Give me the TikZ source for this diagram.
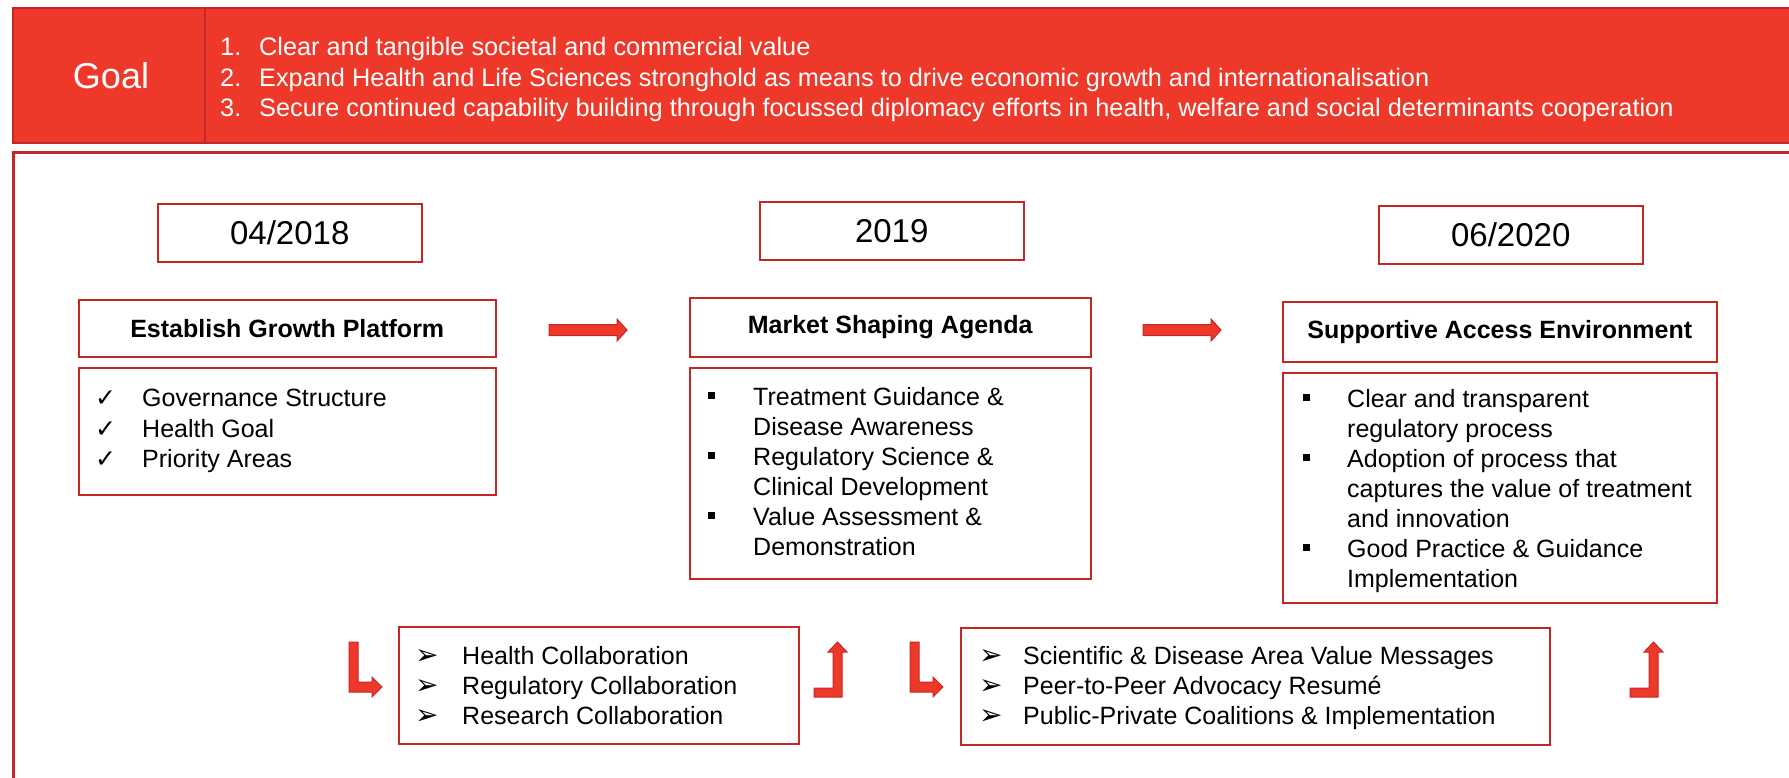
\documentclass[tikz,border=0pt]{standalone}
\usepackage{fontspec}
\setmainfont{Liberation Sans}
\newfontfamily\symfont{DejaVu Sans}
\usetikzlibrary{positioning}

\definecolor{goalred}{RGB}{237,56,42}
\definecolor{edgered}{RGB}{196,40,36}

\newcommand{\sqbul}{\rule[6pt]{7pt}{7pt}}

\tikzset{
	banner/.style={fill=goalred, draw=edgered, line width=1.5pt, anchor=north west, inner sep=0},
	datebox/.style={draw=edgered, line width=1.5pt, anchor=north west, inner sep=0, minimum width=264pt, minimum height=58pt, font=\fontsize{33}{40}\selectfont},
	titlebox/.style={draw=edgered, line width=1.5pt, anchor=north west, inner sep=0, minimum height=57pt, font=\bfseries\fontsize{25}{30}\selectfont},
	listbox/.style={draw=edgered, line width=1.5pt, anchor=north west, inner sep=0},
	items/.style={anchor=north west, inner sep=0, align=left, font=\fontsize{25}{30}\selectfont},
	fatarrow/.style={fill=goalred, draw=edgered, line width=1pt, line join=miter}
}

\begin{document}
\begin{tikzpicture}[x=1pt, y=-1pt]
	\useasboundingbox (0,0) rectangle (1789,777);

	\node[banner, minimum width=1800pt, minimum height=135pt] (banner) at (12,7) {};
	\draw[edgered, line width=1.5pt] (205,7) -- (205,142);
	\node[text=white, font=\fontsize{36}{40}\selectfont] (goal) at (111,76) {Goal};
	\node[items, text=white, font=\fontsize{25.3}{30.5}\selectfont] (goallist) at (220,34) {\begin{tabular}{@{}p{39pt}@{}l@{}}
		1. & Clear and tangible societal and commercial value\\
		2. & Expand Health and Life Sciences stronghold as means to drive economic growth and internationalisation\\
		3. & Secure continued capability building through focussed diplomacy efforts in health, welfare and social determinants cooperation
	\end{tabular}};

	\draw[edgered, line width=3pt] (13,152) rectangle (1810,800);

	\node[datebox] (d2018) at (157,203) {04/2018};
	\node[datebox] (d2019) at (759,201) {2019};
	\node[datebox] (d2020) at (1378,205) {06/2020};

	\node[titlebox, minimum width=417pt] (growth) at (78,299) {Establish Growth Platform};
	\node[titlebox, minimum width=401pt, minimum height=59pt] (market) at (689,297) {Market Shaping Agenda};
	\node[titlebox, minimum width=434pt, minimum height=60pt] (access) at (1282,301) {Supportive Access Environment};

	\node[listbox, minimum width=417pt, minimum height=127pt] (growthbox) at (78,367) {};
	\node[items, font=\fontsize{25}{30.5}\selectfont] (growthlist) at (95,385) {\begin{tabular}{@{}p{47pt}@{}l@{}}
		{\symfont ✓} & Governance Structure\\
		{\symfont ✓} & Health Goal\\
		{\symfont ✓} & Priority Areas
	\end{tabular}};

	\node[listbox, minimum width=401pt, minimum height=211pt] (marketbox) at (689,367) {};
	\node[items] (marketlist) at (708,384) {\begin{tabular}{@{}p{45pt}@{}l@{}}
		\sqbul & Treatment Guidance \&\\
		 & Disease Awareness\\
		\sqbul & Regulatory Science \&\\
		 & Clinical Development\\
		\sqbul & Value Assessment \&\\
		 & Demonstration
	\end{tabular}};

	\node[listbox, minimum width=434pt, minimum height=230pt] (accessbox) at (1282,372) {};
	\node[items] (accesslist) at (1303,386) {\begin{tabular}{@{}p{44pt}@{}l@{}}
		\sqbul & Clear and transparent\\
		 & regulatory process\\
		\sqbul & Adoption of process that\\
		 & captures the value of treatment\\
		 & and innovation\\
		\sqbul & Good Practice \& Guidance\\
		 & Implementation
	\end{tabular}};

	\node[listbox, minimum width=400pt, minimum height=117pt] (collabbox) at (398,626) {};
	\node[items] (collablist) at (415,643) {\begin{tabular}{@{}p{47pt}@{}l@{}}
		{\symfont\fontsize{28}{30}\selectfont ➢} & Health Collaboration\\
		{\symfont\fontsize{28}{30}\selectfont ➢} & Regulatory Collaboration\\
		{\symfont\fontsize{28}{30}\selectfont ➢} & Research Collaboration
	\end{tabular}};

	\node[listbox, minimum width=589pt, minimum height=117pt] (advocbox) at (960,627) {};
	\node[items] (advoclist) at (979,643) {\begin{tabular}{@{}p{44pt}@{}l@{}}
		{\symfont\fontsize{28}{30}\selectfont ➢} & Scientific \& Disease Area Value Messages\\
		{\symfont\fontsize{28}{30}\selectfont ➢} & Peer-to-Peer Advocacy Resumé\\
		{\symfont\fontsize{28}{30}\selectfont ➢} & Public-Private Coalitions \& Implementation
	\end{tabular}};

	\filldraw[fatarrow] (549,324.5) -- (617,324.5) -- (617,319) -- (627,330) -- (617,341) -- (617,335.5) -- (549,335.5) -- cycle;
	\filldraw[fatarrow] (1143,324.5) -- (1211,324.5) -- (1211,319) -- (1221,330) -- (1211,341) -- (1211,335.5) -- (1143,335.5) -- cycle;

	\filldraw[fatarrow] (349,642) -- (358,642) -- (358,682) -- (372,682) -- (372,677) -- (382,687) -- (372,697) -- (372,692) -- (349,692) -- cycle;
	\filldraw[fatarrow] (814,688) -- (833,688) -- (833,652) -- (828,652) -- (837.5,642) -- (847,652) -- (842,652) -- (842,697) -- (814,697) -- cycle;
	\filldraw[fatarrow] (910,642) -- (919,642) -- (919,682) -- (933,682) -- (933,677) -- (943,687) -- (933,697) -- (933,692) -- (910,692) -- cycle;
	\filldraw[fatarrow] (1630,688) -- (1649,688) -- (1649,652) -- (1644,652) -- (1653.5,642) -- (1663,652) -- (1658,652) -- (1658,697) -- (1630,697) -- cycle;
\end{tikzpicture}
\end{document}
